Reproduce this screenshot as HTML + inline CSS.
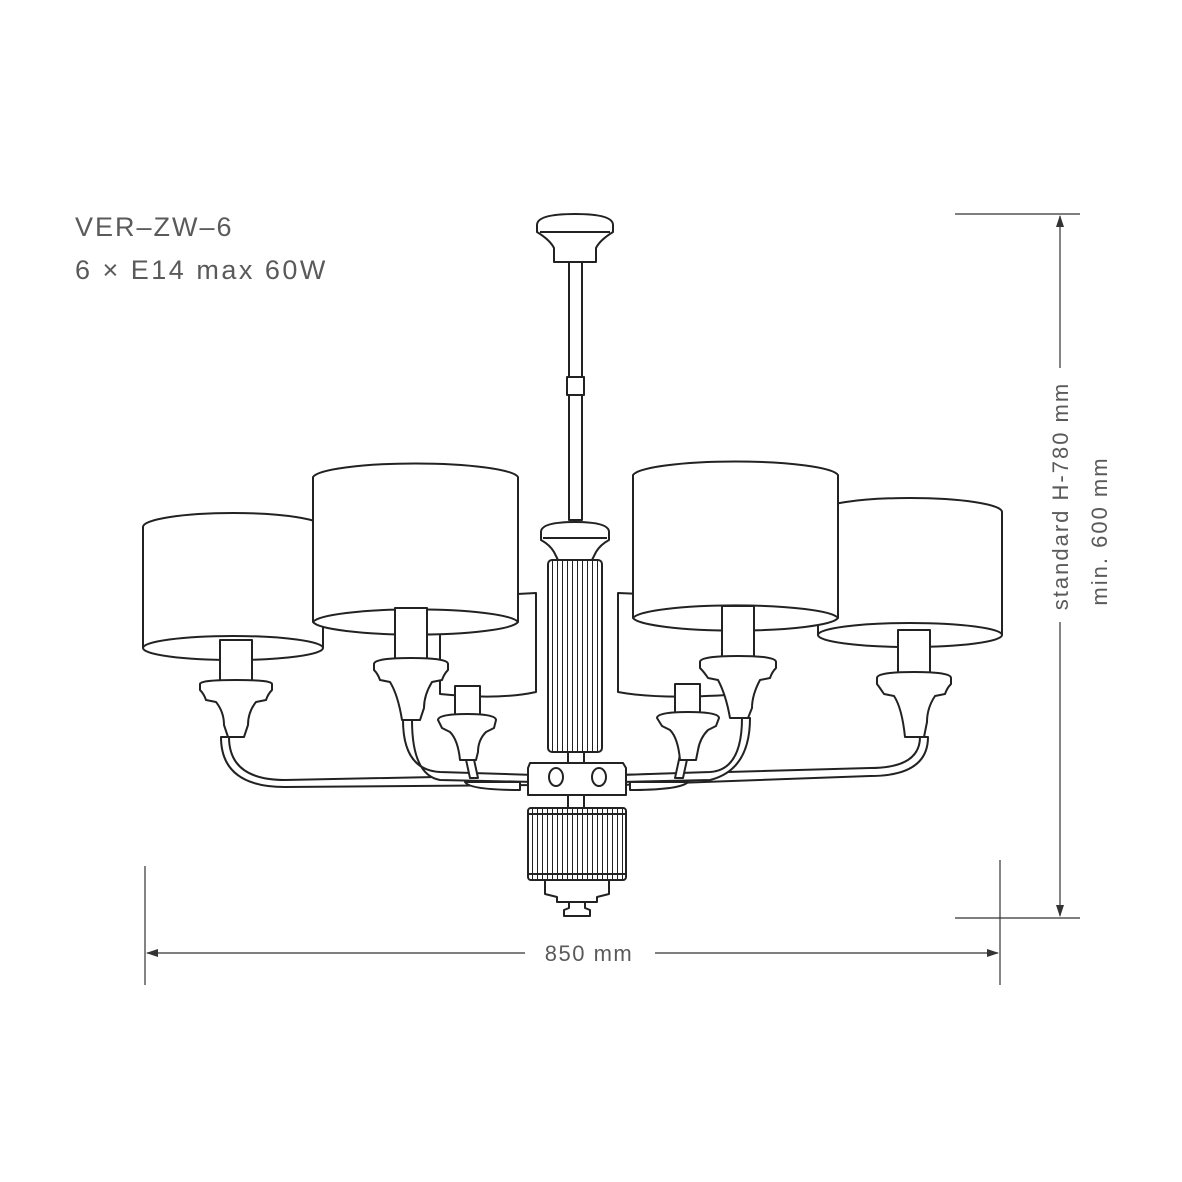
<!DOCTYPE html>
<html><head><meta charset="utf-8"><style>
html,body{margin:0;padding:0;background:#fff;}
svg{display:block;}
text{font-family:"Liberation Sans",sans-serif;fill:#5a5a5a;}
</style></head><body>
<svg width="1182" height="1182" viewBox="0 0 1182 1182" xmlns="http://www.w3.org/2000/svg">
<defs>
<pattern id="rib" width="5" height="10" patternUnits="userSpaceOnUse">
<rect width="5" height="10" fill="#fff"/><line x1="2.5" y1="0" x2="2.5" y2="10" stroke="#222" stroke-width="1"/>
</pattern>
<marker id="ar" markerWidth="12" markerHeight="8" refX="11" refY="4" orient="auto" markerUnits="userSpaceOnUse">
<path d="M0,0 L12,4 L0,8 Z" fill="#333"/></marker>
</defs>

<text x="75" y="236" font-size="27" letter-spacing="2">VER–ZW–6</text>
<text x="75" y="279" font-size="27" letter-spacing="2.5">6 × E14 max 60W</text>

<!-- dimensions -->
<g stroke="#333" stroke-width="1.2" fill="none">
<line x1="955" y1="214" x2="1080" y2="214"/>
<line x1="955" y1="918" x2="1080" y2="918"/>
<line x1="1060" y1="368" x2="1060" y2="216" marker-end="url(#ar)"/>
<line x1="1060" y1="622" x2="1060" y2="916" marker-end="url(#ar)"/>
<line x1="145" y1="866" x2="145" y2="985"/>
<line x1="1000" y1="860" x2="1000" y2="985"/>
<line x1="525" y1="953" x2="147" y2="953" marker-end="url(#ar)"/>
<line x1="655" y1="953" x2="998" y2="953" marker-end="url(#ar)"/>
</g>
<text x="589" y="961" font-size="22" letter-spacing="1.5" text-anchor="middle">850 mm</text>
<text transform="translate(1068,496) rotate(-90)" font-size="22" letter-spacing="2" text-anchor="middle">standard H-780 mm</text>
<text transform="translate(1107,531) rotate(-90)" font-size="22" letter-spacing="2" text-anchor="middle">min. 600 mm</text>

<g stroke="#222" stroke-width="2" fill="#fff" stroke-linejoin="round">
<!-- canopy & rod -->
<path d="M537,225 Q537,214 575,214 Q613,214 613,225 L613,232 Q600,240 596,248 L596,262 L554,262 L554,248 Q550,240 537,232 Z"/>
<line x1="540" y1="232" x2="610" y2="232"/>
<rect x="569" y="262" width="13" height="115"/>
<rect x="567" y="377" width="17" height="18"/>
<rect x="569" y="395" width="13" height="125"/>

<!-- back shades -->
<path d="M440,598 L536,593 L536,692 Q500,700 440,694 Z"/>
<path d="M742,598 L618,593 L618,692 Q660,700 742,694 Z"/>

<!-- shade 1 -->
<path d="M143,527 A90,14 0 0 1 323,527 L323,648 A90,12 0 0 1 143,648 Z"/>
<path d="M143,648 A90,12 0 0 1 323,648" fill="none"/>
<!-- shade 4 -->
<path d="M818,512 A92,14 0 0 1 1002,512 L1002,635 A92,12 0 0 1 818,635 Z"/>
<path d="M818,635 A92,12 0 0 1 1002,635" fill="none"/>
<!-- shade 2 -->
<path d="M313,477 A103,15 0 0 1 518,477 L518,622 A103,14 0 0 1 313,622 Z"/>
<path d="M313,622 A103,14 0 0 1 518,622" fill="none"/>
<!-- shade 3 -->
<path d="M633,475 A103,15 0 0 1 838,475 L838,618 A103,14 0 0 1 633,618 Z"/>
<path d="M633,618 A103,14 0 0 1 838,618" fill="none"/>

<!-- arms -->
<path d="M229,737 Q229,780 285,780 L535,775 L535,785 L285,787 Q221,787 221,737 Z" fill="#fff"/>
<path d="M920,737 Q920,768 870,768 L620,775 L620,785 L870,776 Q928,776 928,737 Z"/>
<path d="M403,720 Q403,770 440,772 L535,775 L535,782 L440,780 Q412,775 412,720 Z"/>
<path d="M742,718 Q742,770 710,772 L620,775 L620,782 L710,780 Q750,770 750,718 Z"/>
<path d="M465,755 L470,778 L478,778 L473,755 Z"/>
<path d="M688,755 L683,778 L675,778 L680,755 Z"/>
<path d="M465,782 Q470,790 520,790 L520,782 Z"/>
<path d="M688,782 Q680,790 630,790 L630,782 Z"/>

<!-- sockets: candle + cup -->
<rect x="220" y="640" width="32" height="43"/>
<path d="M200,684 Q200,680 236,680 Q272,680 272,684 L272,690 Q268,694 266,700 L256,702 Q248,712 248,725 L244,737 L228,737 L224,725 Q224,712 216,702 L206,700 Q204,694 200,690 Z"/>
<rect x="395" y="608" width="32" height="52"/>
<path d="M374,664 Q374,658 411,658 Q448,658 448,664 L448,670 Q444,674 442,680 L432,682 Q424,695 424,708 L420,720 L402,720 Q398,695 390,682 L380,680 Q378,674 374,670 Z"/>
<rect x="722" y="606" width="32" height="52"/>
<path d="M700,662 Q700,656 738,656 Q776,656 776,662 L776,668 Q772,672 770,678 L760,680 Q752,695 752,708 L748,718 L730,718 Q726,695 718,680 L708,678 Q704,672 700,668 Z"/>
<rect x="898" y="630" width="32" height="45"/>
<path d="M877,678 Q877,672 914,672 Q951,672 951,678 L951,684 Q947,688 945,694 L935,696 Q927,708 927,722 L924,737 L905,737 Q902,708 894,696 L884,694 Q880,688 877,684 Z"/>
<rect x="455" y="686" width="25" height="30"/>
<path d="M438,720 Q438,714 467,714 Q496,714 496,720 L494,728 L486,732 Q478,740 478,752 L476,760 L460,760 Q458,740 450,732 L442,728 Z"/>
<rect x="675" y="684" width="25" height="30"/>
<path d="M657,718 Q657,712 688,712 Q719,712 719,718 L716,726 L708,730 Q700,738 698,750 L696,760 L680,760 Q678,738 670,730 L662,726 Z"/>

<!-- central column -->
<path d="M541,532 Q541,522 575,522 Q609,522 609,532 L609,540 Q600,545 596,552 L592,560 L558,560 L554,552 Q550,545 541,540 Z"/>
<line x1="543" y1="538" x2="607" y2="538"/>
<rect x="548" y="560" width="54" height="192" rx="4" fill="url(#rib)"/>
<rect x="568" y="752" width="16" height="12"/>
<!-- hub -->
<path d="M528,768 L530,763 L623,763 L626,768 L626,795 L528,795 Z"/>
<ellipse cx="556" cy="777" rx="7" ry="9"/>
<ellipse cx="599" cy="777" rx="7" ry="9"/>
<rect x="568" y="795" width="16" height="13"/>
<!-- lower drum -->
<rect x="528" y="808" width="98" height="72" rx="3" fill="url(#rib)"/>
<line x1="528" y1="814" x2="626" y2="814"/>
<line x1="528" y1="874" x2="626" y2="874"/>
<path d="M545,880 L609,880 L609,894 L597,897 L597,902 L557,902 L557,897 L545,894 Z"/>
<path d="M569,902 L585,902 L585,908 L590,910 L590,916 L564,916 L564,910 L569,908 Z"/>
</g>
</svg>
</body></html>
